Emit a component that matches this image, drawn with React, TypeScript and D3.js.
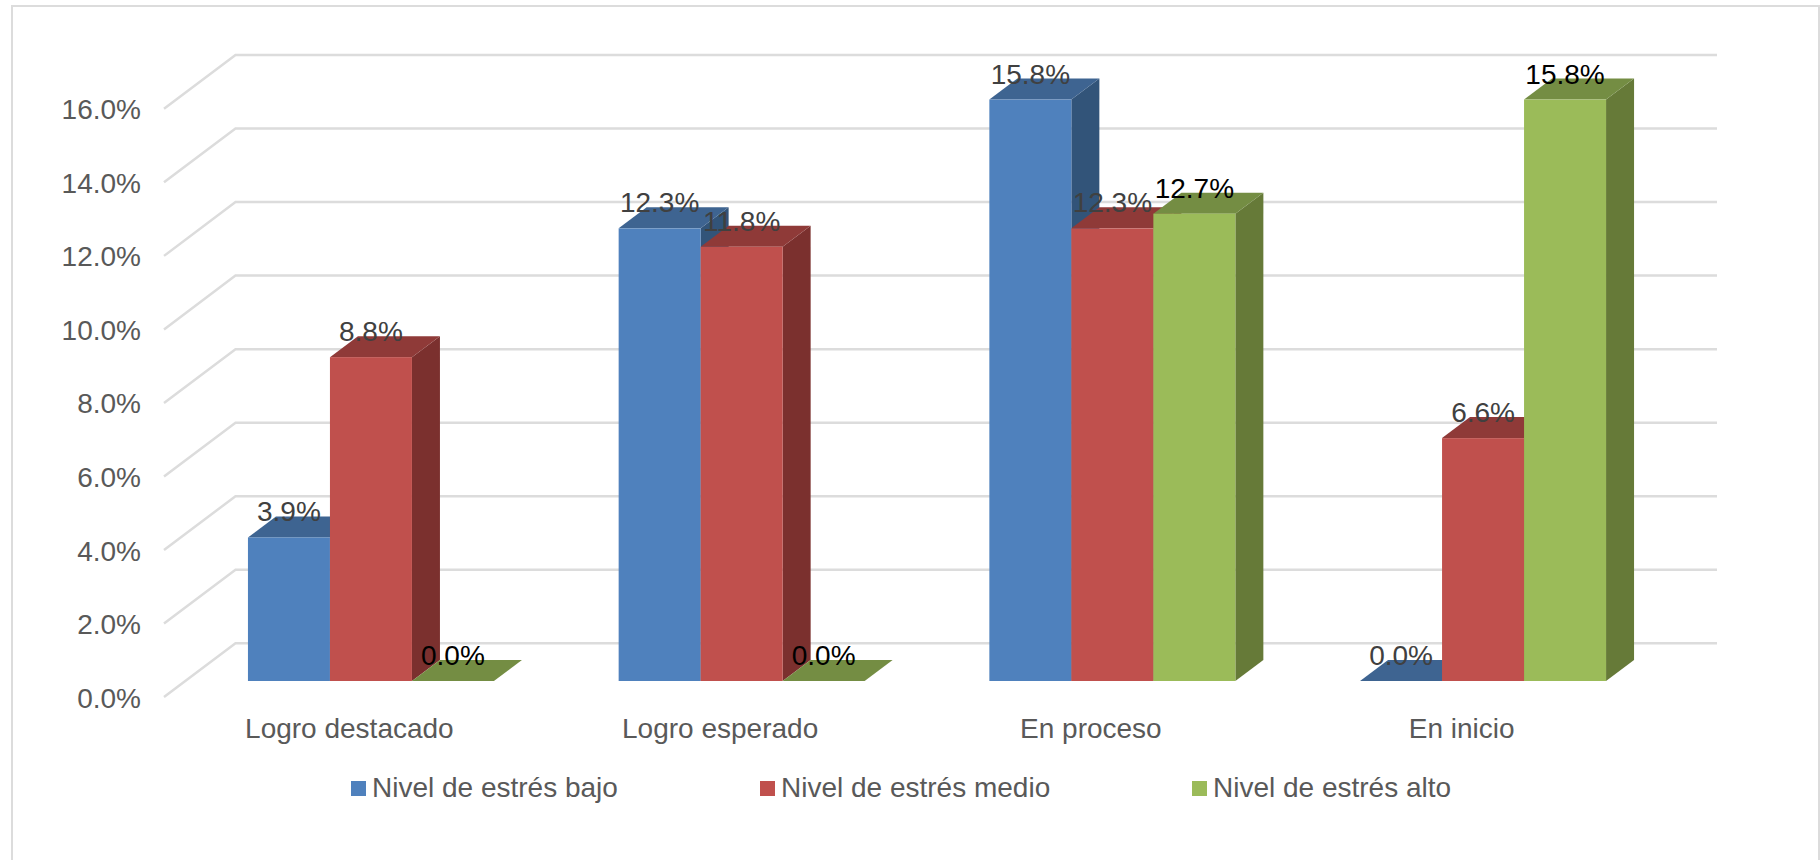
import React from "react";
import * as d3 from "d3";

const categories = ["Logro destacado", "Logro esperado", "En proceso", "En inicio"];
const seriesNames = ["Nivel de estrés bajo", "Nivel de estrés medio", "Nivel de estrés alto"];
const bajo = [3.9, 12.3, 15.8, 0];
const medio = [8.8, 11.8, 12.3, 6.6];
const alto = [0, 0, 12.7, 15.8];
const ticks = [0, 2, 4, 6, 8, 10, 12, 14, 16];

const seriesValues = [bajo, medio, alto];
const fronts = ["#4F81BD", "#C0504D", "#9BBB59"];
const tops = ["#3E6491", "#8F3A38", "#748D43"];
const sides = ["#325479", "#7B302E", "#667A38"];
const labelColors = ["#404040", "#404040", "#000000"];
const legendX = [351, 760, 1192];

const FONT = "'Liberation Sans', Arial, sans-serif";
const FS = 28;
const GRID = "#DCDCDC";
const TEXT = "#595959";

export default function App() {
  const yBar = d3.scaleLinear().domain([0, 16]).range([681, 92.2]);
  const yWall = d3.scaleLinear().domain([0, 16]).range([643.3, 55]);
  const wallDx = 71.5;
  const wallDy = 53.8;
  const barDx = 28;
  const barDy = 21;

  const xAxis = d3.scaleBand().domain(categories).range([164, 1647]);
  const xGroup = d3.scaleBand().domain(categories).range([185.6, 1668.4]);
  const xSeries = d3.scaleBand().domain(d3.range(3).map(String)).range([0, 246]);
  const bw = xSeries.bandwidth();

  return (
    <svg
      width={1820}
      height={860}
      style={{ position: "absolute", left: 0, top: 0, background: "#fff", fontFamily: FONT }}
    >
      <path d="M12,860 V6 H1819 V860" fill="none" stroke={GRID} strokeWidth={2} />

      {ticks.map((t) => {
        const y = yWall(t);
        return (
          <g key={t}>
            <path
              d={`M${164},${y + wallDy} L${164 + wallDx},${y} H1717`}
              fill="none"
              stroke={GRID}
              strokeWidth={2.5}
            />
            <text x={141} y={y + wallDy + 10.5} textAnchor="end" fontSize={FS} fill={TEXT}>
              {t.toFixed(1)}%
            </text>
          </g>
        );
      })}

      {categories.map((c, ci) => {
        const gx = (xGroup(c) as number) + (xGroup.bandwidth() - 246) / 2;
        return (
          <g key={c}>
            {seriesValues.map((vals, si) => {
              const v = vals[ci];
              const x = gx + (xSeries(String(si)) as number);
              const y = yBar(v);
              const y0 = yBar(0);
              return (
                <g key={si}>
                  <polygon
                    points={`${x + bw},${y} ${x + bw + barDx},${y - barDy} ${x + bw + barDx},${y0 - barDy} ${x + bw},${y0}`}
                    fill={sides[si]}
                  />
                  <polygon
                    points={`${x},${y} ${x + barDx},${y - barDy} ${x + bw + barDx},${y - barDy} ${x + bw},${y}`}
                    fill={tops[si]}
                  />
                  <rect x={x} y={y} width={bw} height={y0 - y} fill={fronts[si]} />
                </g>
              );
            })}
          </g>
        );
      })}

      {categories.map((c, ci) => {
        const gx = (xGroup(c) as number) + (xGroup.bandwidth() - 246) / 2;
        return (
          <g key={c}>
            {seriesValues.map((vals, si) => (
              <text
                key={si}
                x={gx + (xSeries(String(si)) as number) + bw / 2}
                y={yBar(vals[ci]) - 16}
                textAnchor="middle"
                fontSize={FS}
                fill={labelColors[si]}
              >
                {vals[ci].toFixed(1)}%
              </text>
            ))}
            <text
              x={(xAxis(c) as number) + xAxis.bandwidth() / 2}
              y={738}
              textAnchor="middle"
              fontSize={FS}
              fill={TEXT}
            >
              {c}
            </text>
          </g>
        );
      })}

      {seriesNames.map((s, si) => (
        <g key={s}>
          <rect x={legendX[si]} y={781} width={15} height={15} fill={fronts[si]} />
          <text x={legendX[si] + 21} y={797} fontSize={FS} fill={TEXT}>
            {s}
          </text>
        </g>
      ))}
    </svg>
  );
}
